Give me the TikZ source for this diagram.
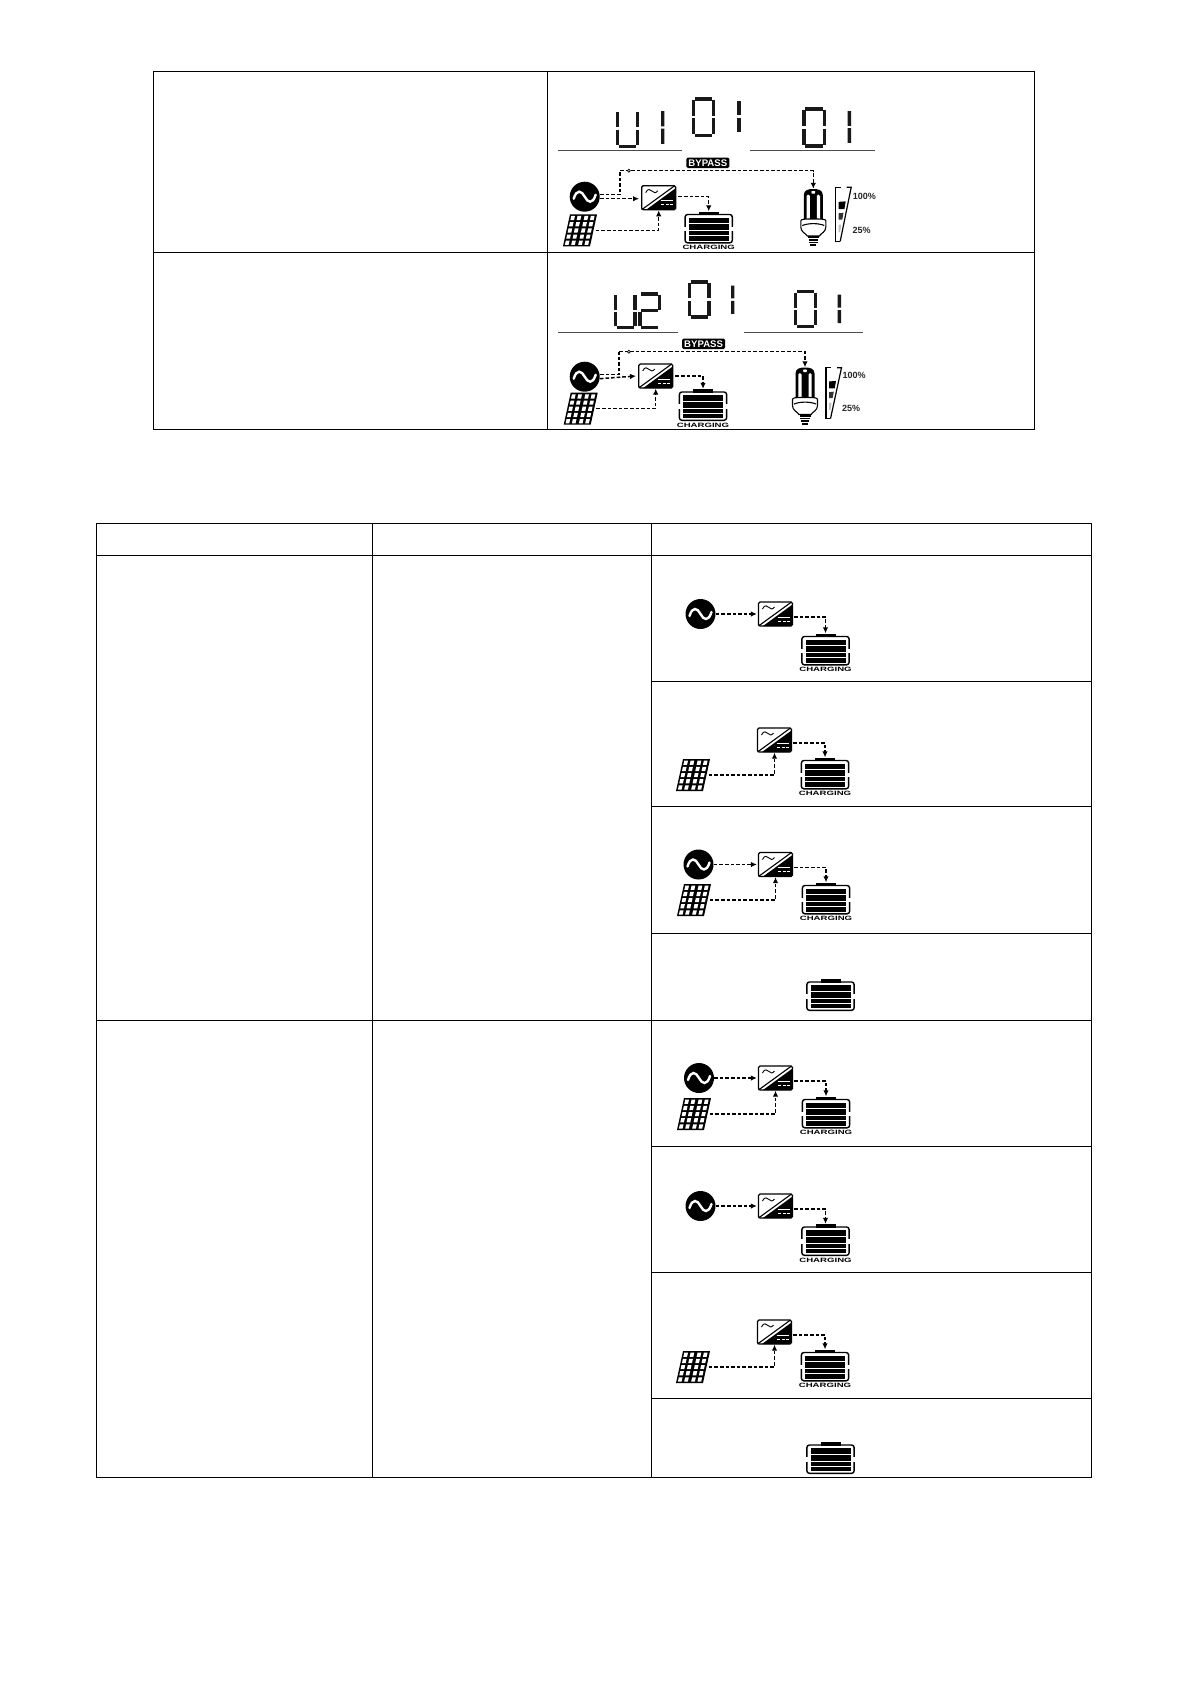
\documentclass[tikz,border=0pt]{standalone}
\usepackage{fontspec}
\usepackage{graphicx}
\setmainfont{Liberation Sans}
\usetikzlibrary{arrows.meta,calc}
\tikzset{
  rule/.style={line width=1pt,black},
  flow/.style={line width=1.5pt,black,dash pattern=on 3.6pt off 2pt,-{Latex[length=6pt,width=5.5pt]}},
  flowplain/.style={line width=1.5pt,black,dash pattern=on 3.6pt off 2pt},
  acnode/.style={circle,fill=black,minimum size=30pt,inner sep=0pt},
  invnode/.style={draw=black,line width=1.3pt,rounded corners=1.5pt,fill=white,minimum width=34pt,minimum height=24pt,inner sep=0pt},
  solnode/.style={minimum width=31pt,minimum height=32pt,inner sep=0pt},
  batnode/.style={minimum width=48pt,minimum height=32pt,inner sep=0pt},
  lcdseg/.style={line width=3.4pt,black!90,shorten >=1.2pt,shorten <=1.2pt},
  lcdline/.style={line width=1.2pt,black!70},
  chg/.style={font=\fontsize{6.2}{7}\selectfont\bfseries,inner sep=0pt},
  pct/.style={font=\fontsize{9}{10}\selectfont\bfseries,inner sep=0pt,text=black!85},
  bypassbox/.style={fill=black,rounded corners=1.5pt,text=white,font=\fontsize{9.6}{10}\selectfont\bfseries,inner sep=0pt,minimum width=43pt,minimum height=10.5pt}
}
\newcommand{\acsrc}[2]{%
  \node[acnode] (#1) at (#2) {};
  \begin{scope}[shift={(#2)}]
    \draw[white,line width=2.4pt,line cap=round] (-11,2) .. controls (-8,-8) and (-3,-6) .. (0,0) .. controls (3,6) and (8,8) .. (11,-2);
  \end{scope}}
\newcommand{\inverter}[2]{%
  \node[invnode] (#1) at (#2) {};
  \begin{scope}[shift={(#2)}]
    \draw[black,line width=1.1pt] (-17,12) -- (16,-12);
    \fill[black] (-12.5,12) -- (17,-9.5) -- (17,10.5) .. controls (17,11.6) and (16.5,12) .. (15.5,12) -- cycle;
    \draw[white,line width=.9pt] (2,3) -- (14,3);
    \draw[white,line width=.9pt] (2.5,7) -- (5.5,7) (7,7) -- (10,7) (11.5,7) -- (14.5,7);
    \draw[black,line width=.9pt] (-13,-5) .. controls (-11,-10) and (-8,-8) .. (-6.5,-6.5) .. controls (-5,-5) and (-3,-4) .. (-1,-7);
  \end{scope}}
\newcommand{\solar}[2]{%
  \node[solnode] (#1) at (#2) {};
  \begin{scope}[shift={(#2)},xslant=.22]
    \fill[black] (-13.5,-16) rectangle (13.5,16);
    \foreach \i in {0,1,2,3} \foreach \j in {0,1,2,3,4} {
      \fill[white] ({-11.9+\i*6.3+(\i>1?.7:0)},{-14.4+\j*6.2}) rectangle ++(3.7,4.2);
    }
  \end{scope}}
\newcommand{\battery}[2]{%
  \node[batnode] (#1) at (#2) {};
  \begin{scope}[shift={(#2)}]
    \fill[black] (-10,-16) rectangle (10,-12.5);
    \draw[black,line width=1.4pt,rounded corners=2.5pt] (-23.6,-13) rectangle (23.6,15.3);
    \fill[white] (-25,-1) rectangle (25,3.5);
    \fill[black] (-20,-10) rectangle (20,-4.1);
    \fill[black] (-20,-3.1) rectangle (20,2.6);
    \fill[black] (-20,3.5) rectangle (20,7.6);
    \fill[black] (-20,8.5) rectangle (20,13.4);
  \end{scope}}
\newcommand{\chargelabel}[2]{\node[chg,anchor=north] (#1c) at ($(#1.south)+(0,#2)$) {\scalebox{1.55}[1]{CHARGING}};}
\newcommand{\bulb}[2]{%
  \node[minimum width=27pt,minimum height=57pt,inner sep=0pt] (#1) at (#2) {};
  \begin{scope}[shift={(#2)},yshift=28.5pt]
    \fill[black] (-9.5,36) -- (-9.5,6) .. controls (-9.5,1) and (-5,0) .. (0,0) .. controls (5,0) and (9.5,1) .. (9.5,6) -- (9.5,36) -- cycle;
    \fill[white] (-6.7,33) -- (-6.7,7) .. controls (-6.7,5) and (-3.5,5) .. (-3.5,7) -- (-3.5,33) -- cycle;
    \fill[white] (3.5,33) -- (3.5,7) .. controls (3.5,5) and (6.7,5) .. (6.7,7) -- (6.7,33) -- cycle;
    \fill[white] (-2,2.5) .. controls (-1,1.6) and (1,1.6) .. (2,2.5) -- (1.5,4.5) -- (-1.5,4.5) -- cycle;
    \draw[black,line width=1.1pt,fill=white] (-12.5,32) .. controls (-12.5,30) and (-9,30) .. (0,30) .. controls (9,30) and (12.5,30) .. (12.5,32) -- (12.5,38) .. controls (12.5,43) and (8,44) .. (6,47) -- (-6,47) .. controls (-8,44) and (-12.5,43) .. (-12.5,38) -- cycle;
    \draw[black,line width=1.1pt] (-11,36.5) .. controls (-5,34) and (5,34) .. (11,36.5);
    \fill[black] (-5.5,47) rectangle (5.5,49);
    \fill[black] (-4.8,50) rectangle (4.8,51.5);
    \fill[black] (-4.4,52.5) rectangle (4.4,54);
    \fill[black] (-3,55) rectangle (3,57);
  \end{scope}}
\newcommand{\loadbars}[2]{%
  \begin{scope}[shift={(#1)},yscale=#2]
    \draw[black,line width=1.2pt] (5,0) -- (0,0) -- (0,52) -- (4,52);
    \draw[black,line width=1.2pt] (11,0) -- (15.5,0) -- (4.5,52);
    \fill[black] (3,14) -- (10,13.5) -- (8.7,21) -- (3,21) -- cycle;
    \fill[black!80] (3,25) -- (7.8,24.5) -- (6.6,31) -- (3,31) -- cycle;
    \fill[black!25] (3,36) -- (5.5,36) -- (4.5,43) -- (3,43) -- cycle;
  \end{scope}}
\newcommand{\lcd}[5]{%
  \coordinate (tl) at (#1,#3); \coordinate (tr) at (#2,#3);
  \coordinate (bl) at (#1,#4); \coordinate (br) at (#2,#4);
  \coordinate (ml) at ($(tl)!.5!(bl)$); \coordinate (mr) at ($(tr)!.5!(br)$);
  \foreach \a/\b in {#5} \draw[lcdseg] (\a) -- (\b);}
\begin{document}
\begin{tikzpicture}[x=1pt,y=-1pt]
\useasboundingbox (0,0) rectangle (1191,1684);
\fill[white] (0,0) rectangle (1191,1684);
% upper table
\draw[rule] (153,71.5) rectangle (1034,429.5);
\draw[rule] (547,71.5) -- (547,429.5);
\draw[rule] (153,252.5) -- (1034,252.5);
% lower table
\draw[rule] (96,523.5) rectangle (1091,1477);
\draw[rule] (372.5,523.5) -- (372.5,1477);
\draw[rule] (651,523.5) -- (651,1477);
\draw[rule] (96,555.5) -- (1091,555.5);
\draw[rule] (651,681) -- (1091,681);
\draw[rule] (651,806.5) -- (1091,806.5);
\draw[rule] (651,933) -- (1091,933);
\draw[rule] (96,1020) -- (1091,1020);
\draw[rule] (651,1146) -- (1091,1146);
\draw[rule] (651,1272) -- (1091,1272);
\draw[rule] (651,1398) -- (1091,1398);
% first display
\lcd{617.5}{637.5}{110.5}{146.5}{tl/ml,ml/bl,bl/br,br/mr,mr/tr}
\lcd{662.7}{662.7}{110}{145}{tl/ml,ml/bl}
\lcd{693.5}{713.5}{99}{135.5}{tl/tr,tr/mr,mr/br,br/bl,bl/ml,ml/tl}
\lcd{739}{739}{100}{133}{tl/ml,ml/bl}
\lcd{804}{824.5}{109}{146}{tl/tr,tr/mr,mr/br,br/bl,bl/ml,ml/tl}
\lcd{849.3}{849.3}{110}{144}{tl/ml,ml/bl}
\draw[lcdline] (558.3,150.7) -- (681.7,150.7);
\draw[lcdline] (750,150.7) -- (875,150.7);
\node[bypassbox] (bpA) at (707.8,162.8) {BYPASS};
\acsrc{acA}{584.7,196.7}
\inverter{invA}{658.7,197.7}
\solar{solA}{580,230.3}
\battery{batA}{708.7,227.5}
\chargelabel{batA}{1.7}
\bulb{bulbA}{813.3,217.5}
\loadbars{835.7,187.3}{1.04}
\node[pct] (pA1) at (864.3,196) {100\%};
\node[pct] (pA2) at (861.7,230) {25\%};
\draw[flowplain] ($(acA.east)+(0,-2)$) -- ++(20,0) coordinate (jA) -- ++(0,-24) coordinate (cA);
\draw[flow] (cA) -| (bulbA.north);
\node[circle,draw=black,fill=white,line width=.7pt,minimum size=3pt,inner sep=0pt] (dotA) at ($(cA)+(9,0)$) {};
\draw[flow] ($(acA.east)+(0,2)$) -- ($(invA.west)+(-2,1)$);
\draw[flow] (solA.east) -| (invA.south);
\draw[flow] ($(invA.east)+(2,-1)$) -| (batA.north);
% second display
\lcd{615.5}{635}{294}{327.5}{tl/ml,ml/bl,bl/br,br/mr,mr/tr}
\lcd{640}{659.5}{294}{327.5}{tl/tr,tr/mr,mr/ml,ml/bl,bl/br}
\lcd{689.5}{709}{282}{317}{tl/tr,tr/mr,mr/br,br/bl,bl/ml,ml/tl}
\lcd{732.7}{732.7}{284.3}{315}{tl/ml,ml/bl}
\lcd{795.5}{815.5}{291.5}{326.5}{tl/tr,tr/mr,mr/br,br/bl,bl/ml,ml/tl}
\lcd{839.3}{839.3}{293.3}{324.3}{tl/ml,ml/bl}
\draw[lcdline] (558.3,332.3) -- (677.7,332.3);
\draw[lcdline] (744,332.3) -- (863,332.3);
\node[bypassbox] (bpB) at (703.6,343.8) {BYPASS};
\acsrc{acB}{584.7,376.7}
\inverter{invB}{655.7,376}
\solar{solB}{580.7,408.7}
\battery{batB}{703,405}
\chargelabel{batB}{1.5}
\bulb{bulbB}{805,396}
\loadbars{826,367.7}{.98}
\node[pct] (pB1) at (854,375.7) {100\%};
\node[pct] (pB2) at (851,408.3) {25\%};
\draw[flowplain] ($(acB.east)+(0,-2)$) -- ++(19,0) coordinate (jB) -- ++(0,-23) coordinate (cB);
\draw[flow] (cB) -| (bulbB.north);
\node[circle,draw=black,fill=white,line width=.7pt,minimum size=3pt,inner sep=0pt] (dotB) at ($(cB)+(10,0)$) {};
\draw[flow] ($(acB.east)+(0,2)$) -- ($(invB.west)+(-2,0)$);
\draw[flow] (solB.east) -| (invB.south);
\draw[flow] ($(invB.east)+(2,0)$) -| (batB.north);
% row 1
\acsrc{ac1}{700.5,614}
\inverter{inv1}{775.5,614}
\battery{bat1}{825.5,649.5}
\chargelabel{bat1}{1}
\draw[flow] (ac1.east) -- ($(ac1.east -| inv1.west)+(-1,0)$);
\draw[flow] ($(inv1.east)+(1,3)$) -| (bat1.north);
% row 2
\solar{sol2}{693,775}
\inverter{inv2}{774.5,740}
\battery{bat2}{825,773.5}
\chargelabel{bat2}{1.5}
\draw[flow] (sol2.east) -| (inv2.south);
\draw[flow] ($(inv2.east)+(1,3)$) -| (bat2.north);
% row 3
\acsrc{ac3}{698.5,864.5}
\solar{sol3}{694,900}
\inverter{inv3}{775.5,864.5}
\battery{bat3}{826,898.5}
\chargelabel{bat3}{1.5}
\draw[flow] (ac3.east) -- ($(ac3.east -| inv3.west)+(-1,0)$);
\draw[flow] (sol3.east) -| (inv3.south);
\draw[flow] ($(inv3.east)+(1,3)$) -| (bat3.north);
% row 4
\battery{bat4}{830.5,995}
% row 5
\acsrc{ac5}{699,1078}
\solar{sol5}{694,1114}
\inverter{inv5}{775.5,1078}
\battery{bat5}{826,1112.5}
\chargelabel{bat5}{1.5}
\draw[flow] (ac5.east) -- ($(ac5.east -| inv5.west)+(-1,0)$);
\draw[flow] (sol5.east) -| (inv5.south);
\draw[flow] ($(inv5.east)+(1,3)$) -| (bat5.north);
% row 6
\acsrc{ac6}{700.5,1206}
\inverter{inv6}{775.5,1206}
\battery{bat6}{825.5,1240}
\chargelabel{bat6}{1.5}
\draw[flow] (ac6.east) -- ($(ac6.east -| inv6.west)+(-1,0)$);
\draw[flow] ($(inv6.east)+(1,3)$) -| (bat6.north);
% row 7
\solar{sol7}{693,1367}
\inverter{inv7}{774.5,1332}
\battery{bat7}{825,1365.5}
\chargelabel{bat7}{1.5}
\draw[flow] (sol7.east) -| (inv7.south);
\draw[flow] ($(inv7.east)+(1,3)$) -| (bat7.north);
% row 8
\battery{bat8}{830.5,1458}
\end{tikzpicture}
\end{document}
